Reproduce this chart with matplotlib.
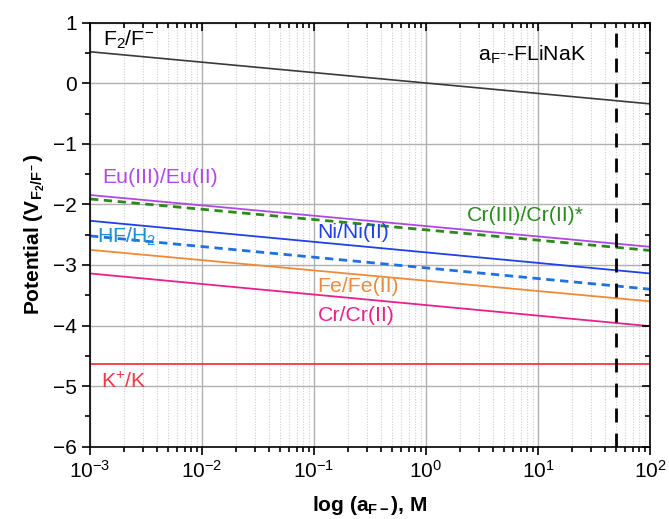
import numpy as np
import matplotlib
matplotlib.use('Agg')
import matplotlib.pyplot as plt
import matplotlib.lines as mlines
from matplotlib.ticker import LogLocator, MultipleLocator, NullFormatter

plt.rcParams['font.family'] = ['Liberation Sans', 'DejaVu Sans']
plt.rcParams['mathtext.fontset'] = 'custom'
plt.rcParams['mathtext.rm'] = 'Liberation Sans'
plt.rcParams['mathtext.it'] = 'Liberation Sans:italic'
plt.rcParams['mathtext.bf'] = 'Liberation Sans:bold'

# x range endpoints (activity of F-, M)
x_ends = [1e-3, 1e2]

# potentials at the two ends of each couple line (V vs F2/F-)
f2_f = [0.52, -0.34]
eu = [-1.845, -2.70]
cr3_cr2 = [-1.91, -2.76]
ni = [-2.27, -3.14]
hf_h2 = [-2.52, -3.40]
fe = [-2.75, -3.60]
cr_cr2 = [-3.14, -4.01]
k_k = [-4.635, -4.635]

flinak_a = 50

fig = plt.figure(figsize=(6.69, 5.19), dpi=100)
ax = fig.add_axes([0.1345, 0.1393, 0.8371, 0.817])

ax.plot(x_ends, f2_f, color='#3a3a3a', lw=1.2)
ax.plot(x_ends, eu, color='#b048e8', lw=1.3)
ax.plot(x_ends, cr3_cr2, color='#2a8a1a', lw=2.0, ls=(0, (3, 2)))
ax.plot(x_ends, ni, color='#2040e8', lw=1.3)
ax.plot(x_ends, hf_h2, color='#2070e0', lw=2.0, ls=(0, (3, 2)))
ax.plot(x_ends, fe, color='#f08a38', lw=1.3)
ax.plot(x_ends, cr_cr2, color='#e8208c', lw=1.3)
ax.plot(x_ends, k_k, color='#f03848', lw=1.3)
ax.axvline(flinak_a, color='black', lw=2.0, ls=(0, (5, 4)))

fs = 15.3
ax.text(1.3e-3, 0.72, 'F$_2$/F$^{-}$', color='black', fontsize=fs, va='center')
ax.text(2.9, 0.47, 'a$_{\\mathrm{F}^{-}}$-FLiNaK', color='black', fontsize=fs, va='center')
ax.text(1.3e-3, -1.55, 'Eu(III)/Eu(II)', color='#b048e8', fontsize=fs, va='center')
ax.text(2.3, -2.18, 'Cr(III)/Cr(II)*', color='#2a8a1a', fontsize=fs, va='center')
ax.text(0.108, -2.46, 'Ni/Ni(II)', color='#2040e8', fontsize=fs, va='center')
ax.text(1.15e-3, -2.53, 'HF/H$_2$', color='#1a90d8', fontsize=fs, va='center')
ax.text(0.108, -3.35, 'Fe/Fe(II)', color='#f08a38', fontsize=fs, va='center')
ax.text(0.108, -3.83, 'Cr/Cr(II)', color='#e8208c', fontsize=fs, va='center')
ax.text(1.25e-3, -4.93, 'K$^{+}$/K', color='#f03848', fontsize=fs, va='center')

ax.set_xscale('log')
ax.set_xlim(1e-3, 1e2)
ax.set_ylim(-6, 1)
ax.yaxis.set_major_locator(MultipleLocator(1))
ax.yaxis.set_minor_locator(MultipleLocator(0.5))
ax.xaxis.set_major_locator(LogLocator(base=10, numticks=10))
ax.xaxis.set_minor_locator(LogLocator(base=10, subs=np.arange(2, 10), numticks=20))
ax.xaxis.set_minor_formatter(NullFormatter())

ax.grid(which='major', color='#b0b0b0', lw=1.0)
ax.grid(which='minor', axis='x', color='#cfcfcf', lw=0.8, ls=(0, (1, 1.5)))

ax.tick_params(axis='both', which='both', labelsize=15, width=1.2, direction='out')
ax.tick_params(which='major', length=6)
ax.tick_params(which='minor', length=3.5)

# inward ticks along top and right, placed at the axis' own tick locations
x0, x1 = ax.get_xlim()
y0, y1 = ax.get_ylim()
for locs, size in ((ax.xaxis.get_majorticklocs(), 6), (ax.xaxis.get_minorticklocs(), 3.5)):
    locs = [v for v in locs if x0 <= v <= x1]
    ax.plot(locs, [1] * len(locs), transform=ax.get_xaxis_transform(), ls='none',
            marker=mlines.TICKDOWN, ms=size, mew=1.2, color='black', clip_on=False, zorder=5)
for locs, size in ((ax.yaxis.get_majorticklocs(), 6), (ax.yaxis.get_minorticklocs(), 3.5)):
    locs = [v for v in locs if y0 <= v <= y1]
    ax.plot([1] * len(locs), locs, transform=ax.get_yaxis_transform(), ls='none',
            marker=mlines.TICKLEFT, ms=size, mew=1.2, color='black', clip_on=False, zorder=5)
ax.set_xlim(x0, x1)
ax.set_ylim(y0, y1)

for s in ax.spines.values():
    s.set_linewidth(1.2)

ax.set_xlabel('log (a$_{\\mathbf{F-}}$), M', fontsize=15, fontweight='bold', labelpad=9)
ax.set_ylabel('Potential (V$_{\\mathbf{F_2/F^-}}$)', fontsize=15, fontweight='bold', labelpad=4)

fig.savefig('out.png', dpi=100)
